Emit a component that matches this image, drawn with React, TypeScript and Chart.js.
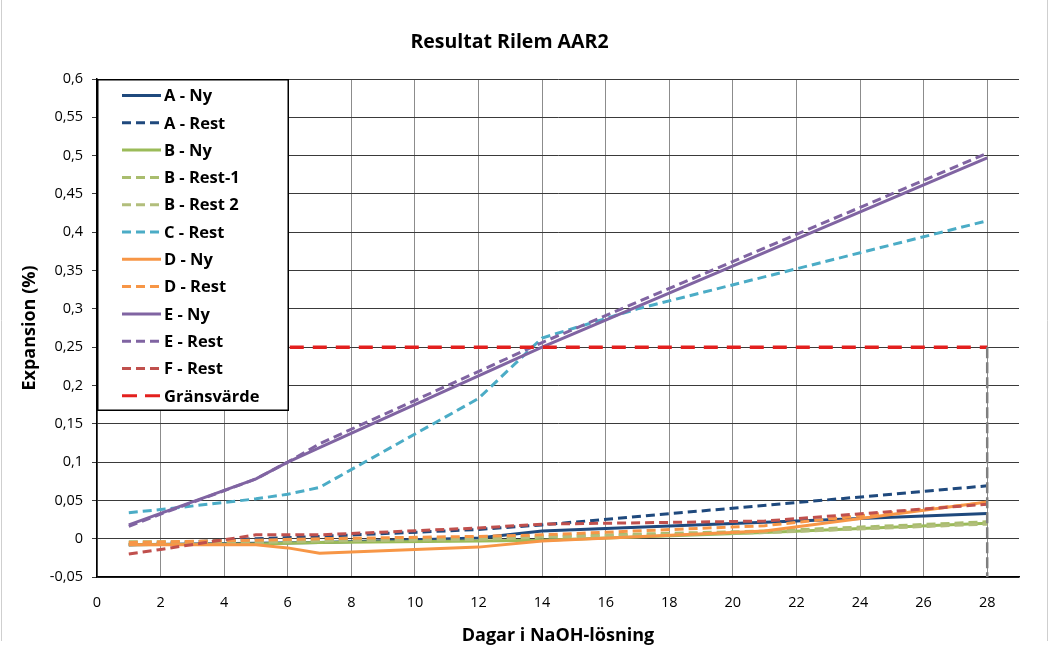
import React, { useEffect, useRef } from 'react';
import { Chart, registerables } from 'chart.js';

Chart.register(...registerables);

// ---- Data ----
const days = [1, 2, 5, 6, 7, 12, 14, 17, 21, 28];

const aNy = [-0.008, null, -0.006, null, -0.005, 0.001, 0.010, null, null, 0.033];
const aRest = [-0.008, null, 0.0, null, 0.003, 0.012, 0.018, null, null, 0.069];
const bNy = [-0.008, null, -0.007, null, -0.005, -0.003, -0.002, null, 0.008, 0.020];
const bRest1 = [-0.004, null, -0.004, null, -0.002, 0.001, 0.003, null, 0.010, 0.022];
const bRest2 = [-0.006, null, -0.005, null, -0.003, -0.001, 0.002, null, 0.008, 0.019];
const cRest = [0.034, 0.038, 0.052, 0.058, 0.067, 0.183, 0.262, 0.300, null, 0.415];
const dNy = [-0.008, null, -0.008, -0.012, -0.019, -0.011, -0.003, null, 0.010, 0.048];
const dRest = [-0.005, null, -0.002, null, 0.0, 0.003, 0.005, null, 0.017, 0.047];
const eNy = [0.018, 0.033, 0.078, 0.100, 0.119, null, 0.250, null, null, 0.497];
const eRest = [0.016, 0.032, 0.078, 0.100, 0.124, null, 0.256, null, null, 0.503];
const fRest = [-0.020, -0.014, 0.005, null, 0.005, 0.014, 0.019, null, 0.023, 0.045];
const limitDays = [1, 28];
const limitValues = [0.25, 0.25];
const dropDays = [28, 28];
const dropValues = [0.25, -0.05];

const xTicksMin = 0;
const xTicksMax = 29;
const xStep = 2;
const yMin = -0.05;
const yMax = 0.6;
const yStep = 0.05;

const toPoints = (xs: number[], ys: (number | null)[]) =>
  xs
    .map((x, i) => (ys[i] === null || ys[i] === undefined ? null : { x, y: ys[i] as number }))
    .filter((p) => p !== null);

const FONT = "'Open Sans', 'DejaVu Sans', sans-serif";

const framePlugin = {
  id: 'outerFrame',
  beforeDraw(chart: any) {
    const ctx = chart.ctx;
    ctx.save();
    ctx.strokeStyle = '#CFCFCF';
    ctx.lineWidth = 1;
    ctx.beginPath();
    ctx.moveTo(1.5, 0);
    ctx.lineTo(1.5, 641);
    ctx.moveTo(1047.5, 0);
    ctx.lineTo(1047.5, 641);
    ctx.stroke();
    ctx.restore();
  },
};

const legendPlugin = {
  id: 'boxLegend',
  afterDraw(chart: any) {
    const ctx = chart.ctx;
    const a = chart.chartArea;
    const x0 = a.left;
    const y0 = a.top;
    const w = 192;
    const h = 332;
    ctx.save();
    ctx.fillStyle = '#ffffff';
    ctx.fillRect(x0, y0, w, h);
    ctx.strokeStyle = '#000000';
    ctx.lineWidth = 1.5;
    ctx.strokeRect(x0 + 0.75, y0 + 0.75, w - 1.5, h - 1.5);
    const items = chart.data.datasets.filter((d: any) => d.label);
    items.forEach((ds: any, i: number) => {
      const y = y0 + 16.5 + i * 27.3;
      ctx.beginPath();
      ctx.strokeStyle = ds.borderColor;
      ctx.lineWidth = 3;
      ctx.setLineDash(ds.legendDash || ds.borderDash || []);
      ctx.moveTo(x0 + 25, y);
      ctx.lineTo(x0 + 64, y);
      ctx.stroke();
      ctx.setLineDash([]);
      ctx.fillStyle = '#000000';
      ctx.font = `bold 16.5px ${FONT}`;
      ctx.textAlign = 'left';
      ctx.textBaseline = 'middle';
      ctx.fillText(ds.label, x0 + 67, y + 1);
    });
    ctx.restore();
  },
};

const fmt = (v: number) => {
  const r = Math.round(v * 100) / 100;
  return String(r).replace('.', ',');
};

export default function App() {
  const ref = useRef<HTMLCanvasElement | null>(null);

  useEffect(() => {
    document.body.style.margin = '0';
    const canvas = ref.current;
    if (!canvas) return;
    const line = (label: string, xs: number[], ys: (number | null)[], color: string, dash: number[], extra: any = {}) => ({
      label,
      data: toPoints(xs, ys),
      borderColor: color,
      backgroundColor: color,
      borderWidth: 3,
      borderDash: dash,
      pointRadius: 0,
      fill: false,
      tension: 0,
      spanGaps: true,
      ...extra,
    });
    const D = [9, 5];
    const datasets: any[] = [
      line('A - Ny', days, aNy, '#1F497D', []),
      line('A - Rest', days, aRest, '#1F497D', D),
      line('B - Ny', days, bNy, '#9BBB59', []),
      line('B - Rest-1', days, bRest1, '#A9BD6E', D),
      line('B - Rest 2', days, bRest2, '#B2BE7C', D),
      line('C - Rest', days, cRest, '#4BACC6', D),
      line('D - Ny', days, dNy, '#F79646', []),
      line('D - Rest', days, dRest, '#F79646', D),
      line('E - Ny', days, eNy, '#8064A2', []),
      line('E - Rest', days, eRest, '#8064A2', D),
      line('F - Rest', days, fRest, '#C0504D', D),
      line('Gränsvärde', limitDays, limitValues, '#E3201E', [14, 9], { borderWidth: 3.5, legendDash: [15, 8] }),
      line('', dropDays, dropValues, '#7F7F7F', [11, 4], { borderWidth: 2.5 }),
    ];
    datasets.forEach((d, i) => (d.order = -i));

    const chart = new Chart(canvas, {
      type: 'line',
      data: { datasets },
      plugins: [framePlugin, legendPlugin],
      options: {
        responsive: false,
        animation: false,
        devicePixelRatio: 1,
        layout: { padding: { left: 0, right: 36, top: 0, bottom: 0 } },
        plugins: {
          legend: { display: false },
          tooltip: { enabled: false },
          title: {
            display: true,
            text: 'Resultat Rilem AAR2',
            color: '#000',
            font: { family: FONT, size: 19.5, weight: 'bold', lineHeight: 1.2 },
            padding: { top: 31, bottom: 24.6 },
          },
        },
        scales: {
          x: {
            type: 'linear',
            min: xTicksMin,
            max: xTicksMax,
            afterBuildTicks: (scale: any) => {
              scale.ticks = scale.ticks.filter((t: any) => t.value % xStep === 0);
            },
            afterFit: (scale: any) => {
              scale.height = 76;
            },
            ticks: {
              stepSize: xStep,
              color: '#000',
              padding: 17,
              maxRotation: 0,
              font: { family: FONT, size: 14.5 },
            },
            grid: { color: '#8C8C8C', lineWidth: 1, drawTicks: false },
            border: { color: '#000', width: 1.5 },
            title: {
              display: true,
              text: 'Dagar i NaOH-lösning',
              color: '#000',
              font: { family: FONT, size: 18, weight: 'bold', lineHeight: 1.2 },
              padding: { top: 0, bottom: 6 },
            },
          },
          y: {
            type: 'linear',
            min: yMin,
            max: yMax,
            afterFit: (scale: any) => {
              scale.width = 97;
            },
            ticks: {
              stepSize: yStep,
              color: '#000',
              padding: 9,
              font: { family: FONT, size: 14.5 },
              callback: (v: any) => fmt(Number(v)),
            },
            grid: { color: '#3A3A3A', lineWidth: 1, drawTicks: true, tickLength: 5 },
            border: { color: '#000', width: 1.5 },
            title: {
              display: true,
              text: 'Expansion (%)',
              color: '#000',
              font: { family: FONT, size: 18, weight: 'bold', lineHeight: 1.2 },
              padding: { top: 19, bottom: 0 },
            },
          },
        },
      } as any,
    });
    return () => chart.destroy();
  }, []);

  return (
    <div style={{ width: 1055, height: 653 }}>
      <canvas ref={ref} width={1055} height={653} style={{ width: 1055, height: 653, display: 'block' }} />
    </div>
  );
}
